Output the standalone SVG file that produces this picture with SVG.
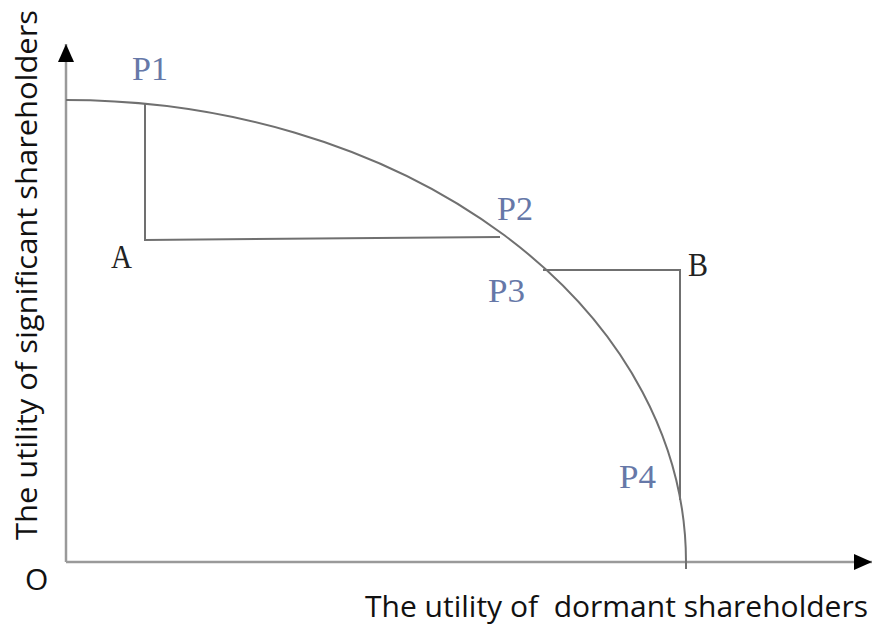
<svg xmlns="http://www.w3.org/2000/svg" width="873" height="627" viewBox="0 0 873 627">
<style>
.ax{stroke:#9a9a9a;stroke-width:2.5;fill:none}
.ln{stroke:#707070;stroke-width:2;fill:none}
.pl{font-family:"Liberation Serif",serif;font-size:34px;fill:#6678a8}
.bl{font-family:"Liberation Serif",serif;font-size:33px;fill:#222}
.lab{font-family:"Open Sans","Liberation Sans",sans-serif;font-size:30px;fill:#111}
</style>
<defs>
<marker id="arr2" markerWidth="20" markerHeight="20" refX="18" refY="8" orient="auto" markerUnits="userSpaceOnUse">
<path d="M0,0 L18,8 L0,16 z" fill="#000"/>
</marker>
</defs>
<g id="axes">
<line class="ax" x1="66" y1="562" x2="66" y2="44" marker-end="url(#arr2)"/>
<line class="ax" x1="66" y1="562" x2="872" y2="562" marker-end="url(#arr2)"/>
</g>
<g id="curve">
<path class="ln" d="M66,100 A620,462 0 0 1 686,562 L686,569"/>
</g>
<g id="connectors">
<polyline class="ln" points="145,103 145,240 500,237"/>
<polyline class="ln" points="543,270 680,270 680,500"/>
</g>
<g id="labels">
<text class="pl" x="132" y="80" textLength="36" lengthAdjust="spacingAndGlyphs">P1</text>
<text class="pl" x="497" y="220" textLength="36" lengthAdjust="spacingAndGlyphs">P2</text>
<text class="pl" x="488" y="302" textLength="37" lengthAdjust="spacingAndGlyphs">P3</text>
<text class="pl" x="619" y="488" textLength="37" lengthAdjust="spacingAndGlyphs">P4</text>
<text class="bl" x="111" y="268" textLength="21" lengthAdjust="spacingAndGlyphs">A</text>
<text class="bl" x="688" y="276" textLength="20" lengthAdjust="spacingAndGlyphs">B</text>
<text class="lab" x="25" y="590" font-size="35">O</text>
<text class="lab" x="365" y="617" xml:space="preserve" textLength="503" lengthAdjust="spacingAndGlyphs">The utility of  dormant shareholders</text>
<text class="lab" transform="translate(37,540) rotate(-90)" textLength="530" lengthAdjust="spacingAndGlyphs">The utility of significant shareholders</text>
</g>
</svg>
